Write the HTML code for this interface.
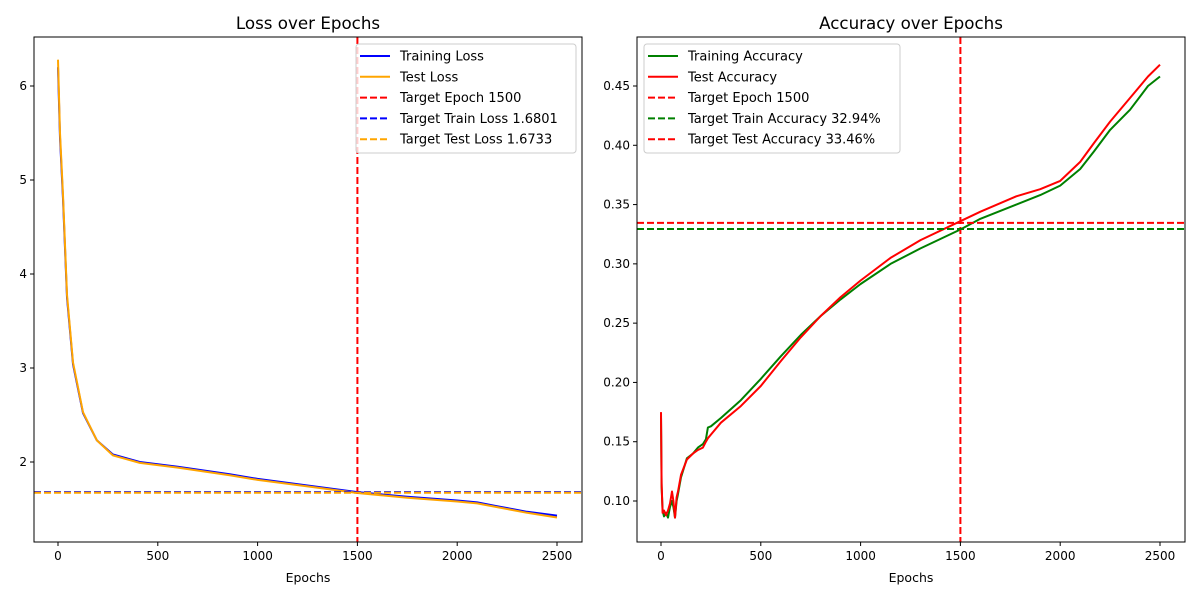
<!DOCTYPE html>
<html><head><meta charset="utf-8">
<style>
body{margin:0;background:#fff;}
svg{font-family:"DejaVu Sans","Liberation Sans",sans-serif;}
</style></head>
<body>
<svg id="chart" width="1200" height="600" viewBox="0 0 1200 600" xmlns="http://www.w3.org/2000/svg"></svg>
<script>
// ---- Loss panel data ----
const lossEpochs = [0,10,25,45,75,125,195,275,410,600,860,1000,1250,1500,1750,2000,2100,2200,2350,2500];
const trainLoss = [6.20,5.45,4.80,3.75,3.04,2.52,2.23,2.08,2.00,1.95,1.87,1.82,1.75,1.68,1.63,1.59,1.57,1.53,1.47,1.43];
const testLoss  = [6.28,5.50,4.84,3.78,3.06,2.53,2.23,2.07,1.99,1.94,1.86,1.81,1.74,1.67,1.62,1.58,1.56,1.52,1.46,1.41];
const lossXTicks = [0,500,1000,1500,2000,2500];
const lossYTicks = [2,3,4,5,6];
const targetEpoch = 1500;
const targetTrainLoss = 1.6801;
const targetTestLoss = 1.6733;
// ---- Accuracy panel data ----
const accEpochs = [0,3,8,15,25,35,45,55,62,70,78,85,100,130,160,185,210,225,235,250,300,400,500,600,700,800,900,1000,1150,1300,1500,1600,1780,1900,2000,2100,2170,2250,2350,2440,2500];
const trainAcc = [0.172,0.112,0.092,0.087,0.090,0.086,0.095,0.100,0.095,0.086,0.100,0.106,0.120,0.136,0.140,0.145,0.148,0.152,0.162,0.163,0.170,0.185,0.203,0.222,0.240,0.256,0.270,0.283,0.300,0.313,0.329,0.338,0.350,0.358,0.366,0.380,0.395,0.413,0.430,0.450,0.458];
const testAcc  = [0.175,0.115,0.090,0.092,0.088,0.092,0.098,0.108,0.100,0.086,0.103,0.108,0.122,0.135,0.140,0.143,0.145,0.150,0.153,0.156,0.166,0.180,0.197,0.218,0.238,0.256,0.272,0.286,0.305,0.320,0.336,0.344,0.357,0.363,0.370,0.386,0.402,0.420,0.440,0.458,0.468];
const accXTicks = [0,500,1000,1500,2000,2500];
const accYTicks = [0.10,0.15,0.20,0.25,0.30,0.35,0.40,0.45];
const accYLabels = ["0.10","0.15","0.20","0.25","0.30","0.35","0.40","0.45"];
const targetTrainAcc = 0.3294;
const targetTestAcc = 0.3346;

const svg = document.getElementById('chart');
const NS = 'http://www.w3.org/2000/svg';
function mk(tag, attrs, parent){
  const e = document.createElementNS(NS, tag);
  for (const k in attrs) e.setAttribute(k, attrs[k]);
  (parent||svg).appendChild(e);
  return e;
}
function txt(s, attrs, parent){ const t = mk('text', attrs, parent); t.textContent = s; return t; }

function panel(cfg){
  const g = mk('g', {});
  
  
  const L=cfg.left, R=cfg.right, T=37, B=542;
  const sx = v => cfg.x0px + (v - 0) * (cfg.x2500px - cfg.x0px) / 2500;
  const sy = v => cfg.yApx + (v - cfg.yA) * (cfg.yBpx - cfg.yApx) / (cfg.yB - cfg.yA);
  cfg.series.forEach(s => {
    const d = s.x.map((v,i)=> (i?'L':'M') + sx(v).toFixed(1) + ',' + sy(s.y[i]).toFixed(1)).join(' ');
    const p = mk('path', {d:d, fill:'none', stroke:s.color, 'stroke-width':2, 'stroke-linejoin':'round'}, g);
    
    
  });
  const vl = mk('line', {x1:sx(targetEpoch), x2:sx(targetEpoch), y1:T, y2:B, stroke:'red', 'stroke-width':2, 'stroke-dasharray':'7,3'}, g);
  
  
  cfg.hlines.forEach(h => {
    const l = mk('line', {x1:L, x2:R, y1:sy(h.v), y2:sy(h.v), stroke:h.color, 'stroke-width':2, 'stroke-dasharray':'7,3'}, g);
    
    
  });
  const fr = mk('rect', {x:L, y:T, width:R-L, height:B-T, fill:'none', stroke:'#000', 'stroke-width':1}, g);
  
  
  cfg.xticks.forEach(v => {
    mk('line', {x1:sx(v), x2:sx(v), y1:B, y2:B+4, stroke:'#000'}, g);
    const t = txt(String(v), {x:sx(v), y:B+18, 'text-anchor':'middle', 'font-size':12}, g);
    
    
  });
  cfg.yticks.forEach((v,i) => {
    mk('line', {x1:L-4, x2:L, y1:sy(v), y2:sy(v), stroke:'#000'}, g);
    const t = txt(cfg.ylabels[i], {x:L-7, y:sy(v)+4, 'text-anchor':'end', 'font-size':12}, g);
    
    
  });
  const ti = txt(cfg.title, {x:(L+R)/2, y:29, 'text-anchor':'middle', 'font-size':16.7}, g);
  
  
  const xl = txt('Epochs', {x:(L+R)/2, y:582, 'text-anchor':'middle', 'font-size':12.5}, g);
  
  
  const lg = mk('g', {}, g);
  
  
  mk('rect', {x:cfg.legX, y:44, width:cfg.legW, height:109, rx:3, fill:'#fff', 'fill-opacity':0.8, stroke:'#ccc'}, lg);
  cfg.legend.forEach((e,i) => {
    const y = 56 + i*20.8;
    const ent = mk('g', {}, lg);
    
    
    const a = {x1:cfg.legX+4, x2:cfg.legX+34, y1:y, y2:y, stroke:e.color, 'stroke-width':2};
    if (e.dash) a['stroke-dasharray'] = '7,3';
    mk('line', a, ent);
    txt(e.label, {x:cfg.legX+44, y:y+4.5, 'font-size':13}, ent);
  });
}

panel({name:'loss-panel', left:34, right:582, x0px:58, x2500px:557,
  yA:2, yApx:462, yB:6, yBpx:86, title:'Loss over Epochs',
  xticks:lossXTicks, yticks:lossYTicks, ylabels:lossYTicks.map(String),
  series:[{name:'training-loss-line', x:lossEpochs, y:trainLoss, color:'blue'},
          {name:'test-loss-line', x:lossEpochs, y:testLoss, color:'orange'}],
  hlines:[{name:'target-train-loss-line', v:targetTrainLoss, color:'blue'},
          {name:'target-test-loss-line', v:targetTestLoss, color:'orange'}],
  legX:356, legW:220,
  legend:[{label:'Training Loss', color:'blue'},{label:'Test Loss', color:'orange'},
          {label:'Target Epoch 1500', color:'red', dash:1},
          {label:'Target Train Loss 1.6801', color:'blue', dash:1},
          {label:'Target Test Loss 1.6733', color:'orange', dash:1}]
});
panel({name:'accuracy-panel', left:637, right:1185, x0px:661, x2500px:1160,
  yA:0.10, yApx:501, yB:0.45, yBpx:86, title:'Accuracy over Epochs',
  xticks:accXTicks, yticks:accYTicks, ylabels:accYLabels,
  series:[{name:'training-accuracy-line', x:accEpochs, y:trainAcc, color:'green'},
          {name:'test-accuracy-line', x:accEpochs, y:testAcc, color:'red'}],
  hlines:[{name:'target-train-accuracy-line', v:targetTrainAcc, color:'green'},
          {name:'target-test-accuracy-line', v:targetTestAcc, color:'red'}],
  legX:644, legW:256,
  legend:[{label:'Training Accuracy', color:'green'},{label:'Test Accuracy', color:'red'},
          {label:'Target Epoch 1500', color:'red', dash:1},
          {label:'Target Train Accuracy 32.94%', color:'green', dash:1},
          {label:'Target Test Accuracy 33.46%', color:'red', dash:1}]
});
</script>
</body></html>
